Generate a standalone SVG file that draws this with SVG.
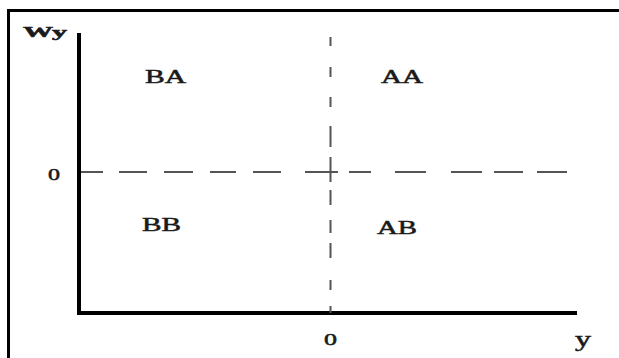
<svg xmlns="http://www.w3.org/2000/svg" width="619" height="358" viewBox="0 0 619 358">
<style>
.frame{stroke:#000;stroke-width:3;fill:none}
.axis{stroke:#000;stroke-width:4;fill:none}
.dash{stroke:#555;stroke-width:2;fill:none}
.lbl{font-family:"Liberation Serif","Times New Roman",serif;fill:#1a1a1a;stroke:#1a1a1a;stroke-width:0.5}
</style>
<rect width="619" height="358" fill="#fff"/>
<g id="frame">
<path class="frame" d="M8.5 358 V10.5 H619"/>
</g>
<g id="connectors">
<path class="axis" d="M79 33 V313 H577"/>
<path class="dash" d="M81 172H103 M119 172H147 M164 172H193 M210 172H236 M253 172H281 M305 172H338 M349 172H371 M395 172H426 M451 172H482 M494 172H523 M537 172H567"/>
<path class="dash" d="M330.5 37V46 M330.5 67V77 M330.5 97V107 M330.5 126V147 M330.5 157V182 M330.5 190V205 M330.5 220V233 M330.5 243V258 M330.5 280V290 M330.5 306V313"/>
</g>
<g id="label-wy"><text class="lbl" x="23" y="37" font-size="14" font-weight="bold" textLength="44" lengthAdjust="spacingAndGlyphs">Wy</text></g>
<g id="label-zero-y"><text class="lbl" x="48" y="180" font-size="17" textLength="12" lengthAdjust="spacingAndGlyphs">0</text></g>
<g id="label-zero-x"><text class="lbl" x="324" y="345" font-size="17" textLength="13" lengthAdjust="spacingAndGlyphs">0</text></g>
<g id="label-y"><text class="lbl" x="575" y="346" font-size="20" textLength="16" lengthAdjust="spacingAndGlyphs">y</text></g>
<g id="node-ba"><text class="lbl" x="145" y="83" font-size="18" textLength="41" lengthAdjust="spacingAndGlyphs">BA</text></g>
<g id="node-aa"><text class="lbl" x="381" y="83" font-size="18" textLength="42" lengthAdjust="spacingAndGlyphs">AA</text></g>
<g id="node-bb"><text class="lbl" x="142" y="231" font-size="19" textLength="39" lengthAdjust="spacingAndGlyphs">BB</text></g>
<g id="node-ab"><text class="lbl" x="377" y="234" font-size="19" textLength="40" lengthAdjust="spacingAndGlyphs">AB</text></g>
</svg>
